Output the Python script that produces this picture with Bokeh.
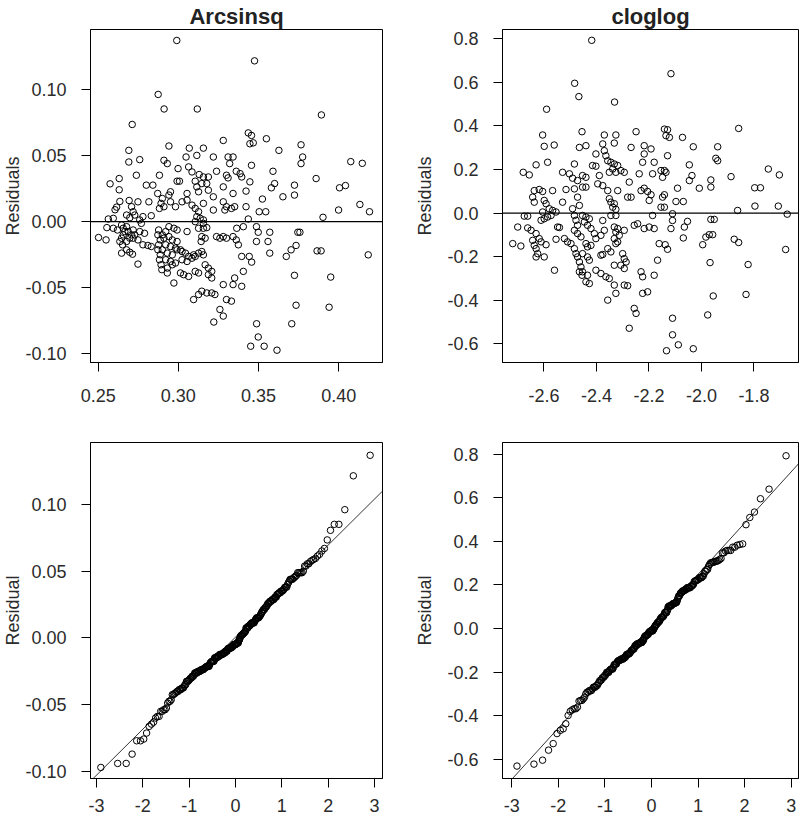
import numpy as np
from statistics import NormalDist
from bokeh.plotting import figure
from bokeh.layouts import gridplot
from bokeh.models import FixedTicker, Span, Slope, Range1d
from bokeh.embed import file_html
from bokeh.resources import INLINE

# ---------------- data: (fitted value, residual) ----------------
arc_obs = [
    (0.2990, 0.1370), (0.3475, 0.1216), (0.2874, 0.0962), (0.2911, 0.0852), (0.3118, 0.0852),
    (0.3892, 0.0807), (0.3221, -0.0759), (0.3488, -0.0772), (0.3498, -0.0872), (0.3451, -0.0942),
    (0.3535, -0.0942), (0.3615, -0.0972), (0.3707, -0.0772), (0.3280, -0.0714), (0.3859, 0.0326),
    (0.4075, 0.0454), (0.4147, 0.0441), (0.4005, 0.0256), (0.4042, 0.0273), (0.3999, 0.0088),
    (0.4132, 0.0130), (0.4192, 0.0075), (0.3902, 0.0033), (0.3865, -0.0221), (0.3890, -0.0221),
    (0.3950, -0.0419), (0.3940, -0.0647), (0.4184, -0.0251),
    (0.3436, 0.0671), (0.3456, 0.0652), (0.3446, 0.0589), (0.3467, 0.0596), (0.3549, 0.0627),
    (0.3627, 0.0539), (0.3765, 0.0581), (0.3775, 0.0489), (0.3765, 0.0439), (0.3456, 0.0426),
    (0.3385, 0.0363), (0.3395, 0.0338), (0.3590, 0.0381), (0.3446, 0.0301), (0.3600, 0.0288),
    (0.3580, 0.0256), (0.3724, 0.0276), (0.3724, 0.0201), (0.3652, 0.0188), (0.3422, 0.0231),
    (0.3524, 0.0171), (0.3422, 0.0113), (0.3504, 0.0075), (0.3545, 0.0075), (0.3436, 0.0020),
    (0.3405, -0.0038), (0.3487, -0.0038), (0.3498, -0.0080), (0.3570, -0.0080), (0.3745, -0.0080),
    (0.3758, -0.0080), (0.3374, -0.0175), (0.3487, -0.0150), (0.3559, -0.0150), (0.3570, -0.0238),
    (0.3395, -0.0263), (0.3442, -0.0263), (0.3457, -0.0306), (0.3734, -0.0180), (0.3703, -0.0213),
    (0.3673, -0.0263), (0.3405, -0.0376), (0.3395, -0.0489), (0.3724, -0.0406), (0.3734, -0.0632),
    (0.3364, -0.0050),
    (0.2712, 0.0735), (0.2691, 0.0539), (0.2691, 0.0451), (0.2759, 0.0469), (0.2738, 0.0351),
    (0.2574, 0.0286), (0.2631, 0.0326), (0.2631, 0.0241), (0.2800, 0.0276), (0.2841, 0.0276),
    (0.2882, 0.0351), (0.2871, 0.0213), (0.2635, 0.0153), (0.2693, 0.0160), (0.2748, 0.0150),
    (0.2816, 0.0150), (0.2615, 0.0110), (0.2605, 0.0090), (0.2708, 0.0113), (0.2718, 0.0075),
    (0.2892, 0.0138), (0.2882, 0.0100), (0.2594, 0.0025), (0.2563, 0.0020), (0.2677, 0.0050),
    (0.2697, 0.0030), (0.2728, 0.0050), (0.2779, 0.0038), (0.2831, 0.0045), (0.2759, 0.0013),
    (0.2769, -0.0013), (0.2554, -0.0045), (0.2594, -0.0050), (0.2620, -0.0063), (0.2502, -0.0120),
    (0.2549, -0.0138), (0.2646, -0.0025), (0.2656, -0.0050), (0.2666, -0.0075), (0.2656, -0.0100),
    (0.2646, -0.0125), (0.2635, -0.0150), (0.2652, -0.0175), (0.2677, -0.0150), (0.2697, -0.0125),
    (0.2687, -0.0075), (0.2677, -0.0038), (0.2708, -0.0100), (0.2718, -0.0063), (0.2728, -0.0100),
    (0.2759, -0.0075), (0.2789, -0.0088), (0.2718, -0.0125), (0.2748, -0.0138), (0.2779, -0.0175),
    (0.2810, -0.0180), (0.2831, -0.0188), (0.2646, -0.0238), (0.2677, -0.0213), (0.2697, -0.0231),
    (0.2714, -0.0246), (0.2748, -0.0321), (0.2877, -0.0063), (0.2872, -0.0100), (0.2887, -0.0138),
    (0.2877, -0.0175), (0.2872, -0.0213), (0.2887, -0.0250), (0.2882, -0.0288), (0.2892, -0.0326),
    (0.2897, -0.0363),
    (0.3280, 0.0614), (0.2941, 0.0572), (0.3068, 0.0556), (0.3156, 0.0556), (0.3048, 0.0489),
    (0.3115, 0.0501), (0.3218, 0.0489), (0.3310, 0.0489), (0.3341, 0.0489), (0.2910, 0.0464),
    (0.2931, 0.0439), (0.3320, 0.0439), (0.2998, 0.0401), (0.3064, 0.0414), (0.3238, 0.0381),
    (0.3361, 0.0381), (0.3085, 0.0376), (0.3130, 0.0356), (0.3156, 0.0338), (0.3187, 0.0338),
    (0.3300, 0.0351), (0.3310, 0.0331), (0.2992, 0.0306), (0.3007, 0.0306), (0.3105, 0.0306),
    (0.3146, 0.0288), (0.3177, 0.0288), (0.3115, 0.0263), (0.3280, 0.0263), (0.2951, 0.0226),
    (0.2941, 0.0201), (0.3054, 0.0213), (0.3126, 0.0226), (0.3187, 0.0238), (0.3341, 0.0213),
    (0.2900, 0.0175), (0.2951, 0.0150), (0.3023, 0.0150), (0.3054, 0.0163), (0.3085, 0.0125),
    (0.3156, 0.0138), (0.3218, 0.0188), (0.3280, 0.0150), (0.3300, 0.0113), (0.3331, 0.0100),
    (0.3351, 0.0113), (0.2910, 0.0113), (0.2982, 0.0113), (0.3105, 0.0100), (0.3126, 0.0075),
    (0.3218, 0.0088), (0.3290, 0.0088), (0.3115, 0.0038), (0.3136, 0.0025), (0.3156, 0.0013),
    (0.3105, 0.0000), (0.3156, -0.0013), (0.2941, -0.0038), (0.2972, -0.0050), (0.2992, -0.0063),
    (0.2921, -0.0075), (0.2900, -0.0100), (0.3054, -0.0075), (0.3126, -0.0050), (0.3156, -0.0050),
    (0.3177, -0.0045), (0.2910, -0.0125), (0.2941, -0.0113), (0.2962, -0.0138), (0.2992, -0.0150),
    (0.2921, -0.0175), (0.2951, -0.0188), (0.2982, -0.0200), (0.3013, -0.0213), (0.3146, -0.0113),
    (0.3167, -0.0125), (0.3142, -0.0150), (0.3238, -0.0113), (0.3259, -0.0125), (0.3280, -0.0113),
    (0.3300, -0.0125), (0.3341, -0.0113), (0.3361, -0.0138), (0.2900, -0.0213), (0.2931, -0.0238),
    (0.2962, -0.0251), (0.2992, -0.0213), (0.3023, -0.0226), (0.3044, -0.0238), (0.3064, -0.0263),
    (0.3095, -0.0251), (0.3126, -0.0238), (0.3146, -0.0226), (0.3156, -0.0251), (0.2921, -0.0288),
    (0.2951, -0.0301), (0.2982, -0.0313), (0.2931, -0.0351), (0.2962, -0.0326), (0.3023, -0.0288),
    (0.3054, -0.0301), (0.3085, -0.0276), (0.3105, -0.0263), (0.3167, -0.0326), (0.3187, -0.0351),
    (0.3208, -0.0376), (0.2931, -0.0388), (0.2972, -0.0464), (0.3013, -0.0388), (0.3033, -0.0401),
    (0.3064, -0.0414), (0.3105, -0.0376), (0.3126, -0.0388), (0.3187, -0.0401), (0.3208, -0.0426),
    (0.3280, -0.0476), (0.3351, -0.0426), (0.3341, -0.0476), (0.3095, -0.0589), (0.3126, -0.0551),
    (0.3146, -0.0526), (0.3177, -0.0539), (0.3208, -0.0539), (0.3228, -0.0551), (0.3300, -0.0589),
    (0.3331, -0.0601), (0.3259, -0.0664),
]

cll_obs = [
    (-2.418, 0.792), (-2.116, 0.639), (-2.483, 0.595), (-2.467, 0.534), (-2.331, 0.509),
    (-2.275, -0.528), (-2.110, -0.558), (-2.088, -0.604), (-2.133, -0.631), (-2.031, -0.622),
    (-1.797, 0.116), (-1.775, 0.116), (-1.796, 0.032), (-1.745, 0.202), (-1.703, 0.175),
    (-1.707, 0.032), (-1.673, -0.005), (-1.679, -0.167), (-1.822, -0.236), (-1.830, -0.373),
    (-2.590, 0.476), (-2.605, 0.358), (-2.599, 0.306), (-2.561, 0.312), (-2.455, 0.373),
    (-2.586, 0.233), (-2.630, 0.221), (-2.465, 0.301), (-2.679, 0.187), (-2.656, 0.175),
    (-2.484, 0.225), (-2.529, 0.187), (-2.503, 0.180), (-2.491, 0.160), (-2.472, 0.149),
    (-2.637, 0.103), (-2.618, 0.108), (-2.605, 0.099), (-2.567, 0.103), (-2.516, 0.108),
    (-2.484, 0.111), (-2.643, 0.073), (-2.637, 0.050), (-2.599, 0.058), (-2.592, 0.043),
    (-2.529, 0.050), (-2.472, 0.073), (-2.465, 0.035), (-2.605, 0.005), (-2.580, 0.020),
    (-2.567, 0.012), (-2.554, 0.005), (-2.573, -0.011), (-2.586, -0.018), (-2.599, -0.026),
    (-2.611, -0.033), (-2.675, -0.014), (-2.662, -0.014), (-2.548, -0.064), (-2.541, -0.066),
    (-2.491, 0.020), (-2.484, -0.011), (-2.478, -0.033), (-2.472, -0.056), (-2.484, -0.079),
    (-2.472, -0.094), (-2.459, -0.109), (-2.700, -0.064), (-2.662, -0.068), (-2.649, -0.079),
    (-2.630, -0.094), (-2.618, -0.117), (-2.611, -0.132), (-2.592, -0.145), (-2.554, -0.120),
    (-2.719, -0.140), (-2.688, -0.151), (-2.643, -0.125), (-2.637, -0.148), (-2.630, -0.163),
    (-2.624, -0.186), (-2.599, -0.201), (-2.630, -0.201), (-2.560, -0.262), (-2.522, -0.117),
    (-2.510, -0.132), (-2.497, -0.140), (-2.484, -0.163), (-2.478, -0.186), (-2.472, -0.201),
    (-2.465, -0.224), (-2.459, -0.247), (-2.465, -0.269), (-2.455, -0.285),
    (-2.370, 0.358), (-2.326, 0.358), (-2.376, 0.317), (-2.332, 0.321), (-2.249, 0.373),
    (-2.440, 0.309), (-2.402, 0.271), (-2.370, 0.286), (-2.364, 0.263), (-2.268, 0.301),
    (-2.218, 0.309), (-2.192, 0.294), (-2.218, 0.271), (-2.415, 0.218), (-2.402, 0.215),
    (-2.357, 0.240), (-2.345, 0.233), (-2.332, 0.225), (-2.319, 0.218), (-2.338, 0.202),
    (-2.351, 0.187), (-2.326, 0.187), (-2.307, 0.195), (-2.294, 0.187), (-2.453, 0.172),
    (-2.440, 0.164), (-2.224, 0.233), (-2.180, 0.233), (-2.237, 0.180), (-2.186, 0.180),
    (-2.154, 0.195), (-2.148, 0.164), (-2.389, 0.172), (-2.395, 0.134), (-2.376, 0.126),
    (-2.275, 0.142), (-2.357, 0.103), (-2.319, 0.103), (-2.453, 0.119), (-2.440, 0.119),
    (-2.230, 0.103), (-2.218, 0.114), (-2.205, 0.099), (-2.192, 0.084), (-2.199, 0.058),
    (-2.281, 0.073), (-2.268, 0.073), (-2.351, 0.066), (-2.345, 0.050), (-2.332, 0.043),
    (-2.338, 0.027), (-2.326, 0.017), (-2.148, 0.073), (-2.154, 0.027), (-2.186, -0.011),
    (-2.453, -0.011), (-2.440, -0.018), (-2.427, -0.026), (-2.446, -0.041), (-2.434, -0.056),
    (-2.421, -0.071), (-2.376, -0.034), (-2.345, -0.011), (-2.326, -0.011), (-2.332, -0.064),
    (-2.319, -0.071), (-2.326, -0.087), (-2.313, -0.102), (-2.332, -0.117), (-2.319, -0.132),
    (-2.326, -0.140), (-2.294, -0.079), (-2.256, -0.056), (-2.243, -0.049), (-2.218, -0.071),
    (-2.199, -0.064), (-2.180, -0.071), (-2.408, -0.094), (-2.402, -0.117), (-2.383, -0.102),
    (-2.370, -0.079), (-2.440, -0.140), (-2.434, -0.155), (-2.421, -0.148), (-2.357, -0.163),
    (-2.345, -0.178), (-2.453, -0.186), (-2.434, -0.201), (-2.427, -0.216), (-2.383, -0.193),
    (-2.376, -0.190), (-2.300, -0.186), (-2.294, -0.209), (-2.287, -0.224), (-2.307, -0.239),
    (-2.294, -0.254), (-2.332, -0.239), (-2.161, -0.140), (-2.167, -0.216), (-2.230, -0.269),
    (-2.224, -0.292), (-2.180, -0.285), (-2.453, -0.269), (-2.434, -0.285), (-2.402, -0.262),
    (-2.383, -0.277), (-2.364, -0.292), (-2.351, -0.300), (-2.440, -0.315), (-2.427, -0.323),
    (-2.332, -0.330), (-2.326, -0.368), (-2.294, -0.330), (-2.281, -0.333), (-2.224, -0.368),
    (-2.205, -0.361), (-2.357, -0.399), (-2.256, -0.437), (-2.249, -0.460),
    (-2.141, 0.385), (-2.129, 0.382), (-2.135, 0.355), (-2.122, 0.347), (-2.072, 0.347),
    (-1.858, 0.388), (-2.031, 0.304), (-1.938, 0.304), (-1.945, 0.251), (-1.938, 0.240),
    (-2.129, 0.263), (-2.046, 0.221), (-2.141, 0.195), (-2.135, 0.187), (-2.036, 0.172),
    (-2.046, 0.149), (-1.887, 0.167), (-1.964, 0.152), (-1.964, 0.119), (-2.008, 0.114),
    (-2.091, 0.114), (-2.141, 0.084), (-2.097, 0.053), (-2.069, 0.053), (-2.141, 0.027),
    (-2.110, -0.003), (-1.862, 0.012), (-2.110, -0.034), (-2.053, -0.038), (-2.065, -0.064),
    (-1.964, -0.029), (-1.951, -0.029), (-2.116, -0.071), (-2.069, -0.114), (-1.983, -0.110),
    (-1.970, -0.099), (-1.957, -0.099), (-1.995, -0.145), (-1.875, -0.120), (-1.858, -0.135),
    (-2.138, -0.145), (-2.129, -0.166), (-1.967, -0.227), (-1.955, -0.380), (-2.110, -0.482),
    (-1.976, -0.467),
]

arc_fitted = [f for f, r in arc_obs]
arc_resid = [r for f, r in arc_obs]
cll_fitted = [f for f, r in cll_obs]
cll_resid = [r for f, r in cll_obs]

titles = ["Arcsinsq", "cloglog"]
arc_x_ticks = [0.25, 0.30, 0.35, 0.40]
arc_x_labels = ["0.25", "0.30", "0.35", "0.40"]
arc_y_ticks = [-0.10, -0.05, 0.0, 0.05, 0.10]
arc_y_labels = ["-0.10", "-0.05", "0.00", "0.05", "0.10"]
cll_x_ticks = [-2.6, -2.4, -2.2, -2.0, -1.8]
cll_x_labels = ["-2.6", "-2.4", "-2.2", "-2.0", "-1.8"]
cll_y_ticks = [-0.6, -0.4, -0.2, 0.0, 0.2, 0.4, 0.6, 0.8]
cll_y_labels = ["-0.6", "-0.4", "-0.2", "0.0", "0.2", "0.4", "0.6", "0.8"]
qq_x_ticks = [-3, -2, -1, 0, 1, 2, 3]
qq_x_labels = ["-3", "-2", "-1", "0", "1", "2", "3"]

FONT = "Liberation Sans"
TXT = "#2b2b2b"


def qq_points(vals):
    y = np.sort(np.asarray(vals, dtype=float))
    n = len(y)
    a = 0.375 if n <= 10 else 0.5
    p = (np.arange(1, n + 1) - a) / (n + 1 - 2 * a)
    nd = NormalDist()
    x = np.array([nd.inv_cdf(float(pi)) for pi in p])
    q1, q3 = np.percentile(y, [25, 75])
    z1, z3 = nd.inv_cdf(0.25), nd.inv_cdf(0.75)
    slope = (q3 - q1) / (z3 - z1)
    intercept = q1 - slope * z1
    return x, y, slope, intercept


def make_fig(w, h, xr, yr, xt, xl, yt, yl, ylab, title, bl, br, bt, bb,
             ylab_standoff, xlab_standoff):
    p = figure(width=w, height=h, x_range=Range1d(*xr), y_range=Range1d(*yr),
               output_backend="svg", toolbar_location=None, tools="", title=title,
               min_border_left=bl, min_border_right=br, min_border_top=bt, min_border_bottom=bb,
               background_fill_color="white", border_fill_color="white")
    p.grid.visible = False
    p.outline_line_color = "black"
    p.outline_line_width = 1
    p.outline_line_alpha = 1
    if title is not None:
        p.title.text_font = FONT
        p.title.text_font_size = "22px"
        p.title.text_font_style = "bold"
        p.title.text_color = "#222222"
        p.title.align = "center"
        p.title.standoff = 2
    xa, ya = p.xaxis[0], p.yaxis[0]
    xa.ticker = FixedTicker(ticks=xt)
    ya.ticker = FixedTicker(ticks=yt)
    xa.major_label_overrides = {t: l for t, l in zip(xt, xl)}
    ya.major_label_overrides = {t: l for t, l in zip(yt, yl)}
    for ax in (xa, ya):
        ax.axis_line_color = "black"
        ax.major_tick_line_color = "black"
        ax.major_tick_out = 9
        ax.major_tick_in = 0
        ax.minor_tick_line_color = None
        ax.major_label_text_font = FONT
        ax.major_label_text_font_size = "18px"
        ax.major_label_text_color = TXT
    xa.major_label_standoff = xlab_standoff
    ya.major_label_standoff = 15
    ya.axis_label = ylab
    ya.axis_label_text_font = FONT
    ya.axis_label_text_font_size = "18px"
    ya.axis_label_text_font_style = "normal"
    ya.axis_label_text_color = TXT
    ya.axis_label_standoff = ylab_standoff
    return p


def add_points(p, x, y):
    p.scatter(x, y, marker="circle", size=6.5, fill_color=None,
              line_color="black", line_width=1)


# top-left: Arcsinsq residuals vs fitted
p1 = make_fig(400, 410, (0.2452, 0.4273), (-0.1065, 0.1453), arc_x_ticks, arc_x_labels,
              arc_y_ticks, arc_y_labels, "Residuals", titles[0], 87, 18, 27, 48, -1, 17)
add_points(p1, arc_fitted, arc_resid)
p1.add_layout(Span(location=0, dimension="width", line_color="black", line_width=1.2))

# top-right: cloglog residuals vs fitted
p2 = make_fig(400, 410, (-2.758, -1.630), (-0.685, 0.8416), cll_x_ticks, cll_x_labels,
              cll_y_ticks, cll_y_labels, "Residuals", titles[1], 102, 2, 27, 48, 9, 17)
add_points(p2, cll_fitted, cll_resid)
p2.add_layout(Span(location=0, dimension="width", line_color="black", line_width=1.2))

# bottom-left: normal QQ of Arcsinsq residuals
qx, qy, s1, i1 = qq_points(arc_resid)
p3 = make_fig(400, 411, (-3.128, 3.171), (-0.1055, 0.1466), qq_x_ticks, qq_x_labels,
              arc_y_ticks, arc_y_labels, "Residual", None, 87, 18, 32, 43, -1, 11)
add_points(p3, qx, qy)
p3.add_layout(Slope(gradient=s1, y_intercept=i1, line_color="black", line_width=0.8))

# bottom-right: normal QQ of cloglog residuals
qx2, qy2, s2, i2 = qq_points(cll_resid)
p4 = make_fig(400, 411, (-3.2, 3.157), (-0.688, 0.853), qq_x_ticks, qq_x_labels,
              cll_y_ticks, cll_y_labels, "Residual", None, 102, 2, 32, 43, 9, 11)
add_points(p4, qx2, qy2)
p4.add_layout(Slope(gradient=s2, y_intercept=i2, line_color="black", line_width=0.8))

grid = gridplot([[p1, p2], [p3, p4]], toolbar_location=None)

with open("out.html", "w") as f:
    f.write(file_html(grid, INLINE))
